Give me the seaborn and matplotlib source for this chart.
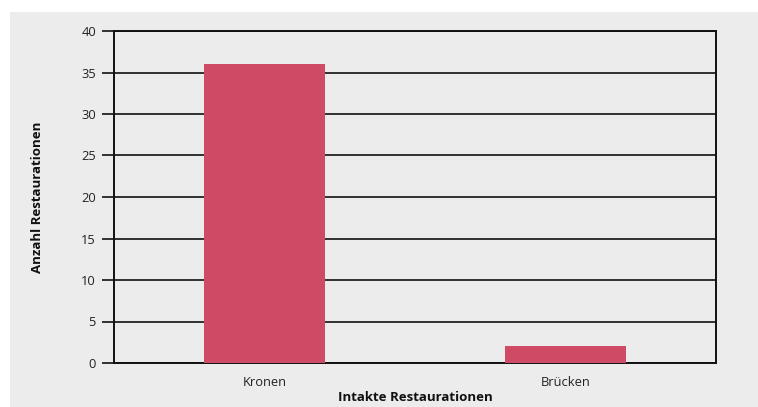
import matplotlib
matplotlib.use("Agg")
import matplotlib.pyplot as plt
import seaborn as sns
import pandas as pd

categories = ["Kronen", "Brücken"]
values = [36, 2]
y_ticks = [0, 5, 10, 15, 20, 25, 30, 35, 40]

sns.set_theme(style="white")
plt.rcParams['font.family'] = ['Open Sans', 'DejaVu Sans']

W, H = 758, 407
fig = plt.figure(figsize=(W / 100, H / 100), dpi=100, facecolor="white")
bg = "#EBECEB"

# background panel
bgax = fig.add_axes([10 / W, 0, 1 - 10 / W, 1 - 12 / H], zorder=-5)
bgax.set_facecolor(bg)
bgax.set_xticks([])
bgax.set_yticks([])
for s in bgax.spines.values():
    s.set_visible(False)

ax = fig.add_axes([114 / W, 1 - 363 / H, (716 - 114) / W, (363 - 31) / H], zorder=1)
ax.set_facecolor(bg)

df = pd.DataFrame({"cat": categories, "val": values})
sns.barplot(data=df, x="cat", y="val", ax=ax, color="#CF4A65",
            saturation=1, width=0.405, zorder=3, linewidth=0, edgecolor="none")

ax.set_xlim(-0.5, 1.5)
ax.set_ylim(0, 40)
ax.set_yticks(y_ticks)
ax.set_yticklabels([str(t) for t in y_ticks], fontsize=9.3, color="#222222")
ax.set_xticks(range(len(categories)))
ax.set_xticklabels(categories, fontsize=9.3, color="#222222")
ax.yaxis.grid(True, color="#111111", linewidth=1.2, zorder=0)
ax.set_axisbelow(True)
ax.tick_params(axis="y", which="major", left=True, length=9, width=1.2,
               color="#111111", pad=4)
ax.tick_params(axis="x", which="major", bottom=False, pad=3)
for s in ax.spines.values():
    s.set_color("#111111")
    s.set_linewidth(1.4)

ax.set_xlabel("Intakte Restaurationen", fontsize=9.5, fontweight="bold",
              color="#111111", labelpad=2)
ax.set_ylabel("Anzahl Restaurationen", fontsize=9.5, fontweight="bold",
              color="#111111", labelpad=27)

fig.savefig("out.png", dpi=100, facecolor="white")
